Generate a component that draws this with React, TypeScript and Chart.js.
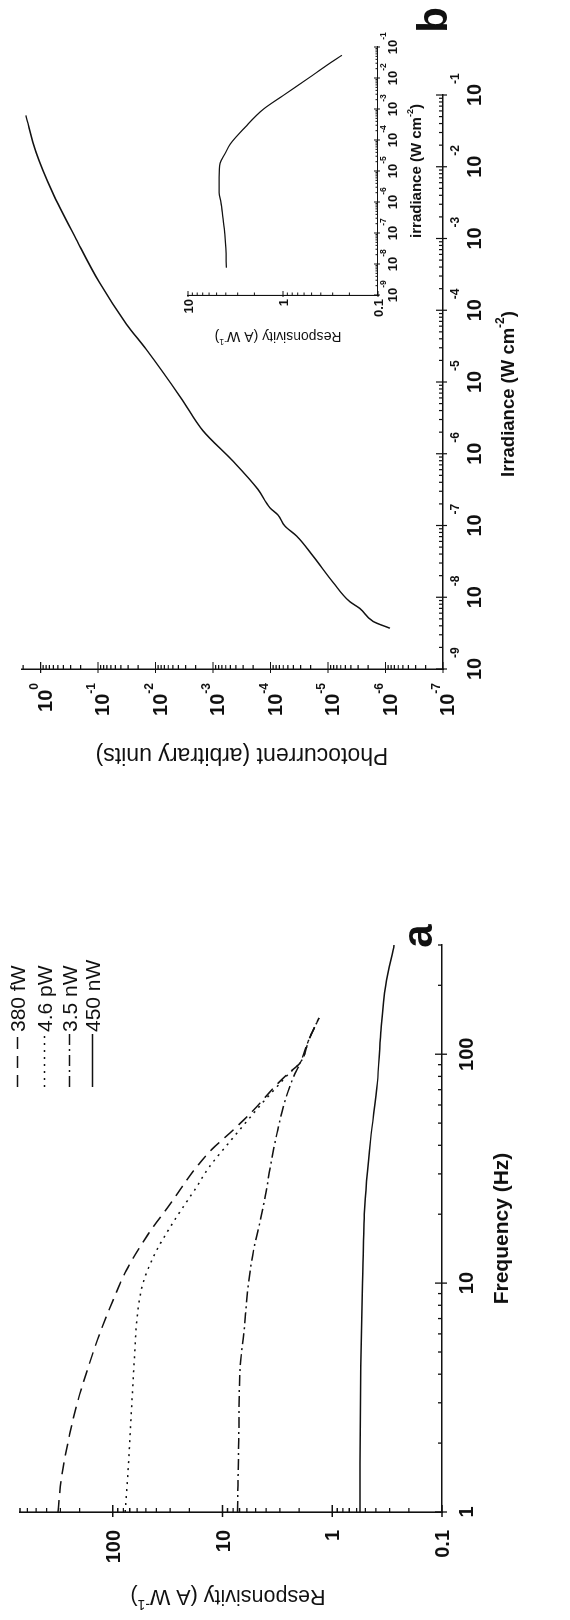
import React, { useEffect, useRef } from 'react';
import { Chart, registerables } from 'chart.js';
Chart.register(...registerables);

const FONT = '"Liberation Sans", Arial, Helvetica, sans-serif';
const INK = '#111111';

// ---------- Panel a : responsivity vs frequency ----------
const seriesLabelsA = ['380 fW', '4.6 pW', '3.5 nW', '450 nW'];
const freq380fW = [1, 1.42, 2.2, 3.08, 4.3, 6.04, 8.45, 11.4, 16, 23.2, 30.8, 38.4, 45.4, 56.5, 72.6, 82, 92, 116, 144];
const resp380fW = [315, 293, 246, 207, 167, 131, 99, 75, 49, 28, 18.5, 12.5, 8.5, 5.3, 3.3, 2.55, 1.95, 1.63, 1.32];
const freq46pW = [1, 1.6, 3, 5, 6.5, 8.5, 10, 12, 14.5, 18, 21.4, 26, 32, 41.7, 50, 60, 72, 82, 92, 116, 144];
const resp46pW = [77, 72, 67, 63, 61, 57, 53, 46, 38, 29, 23, 17.5, 13.3, 8.5, 6.2, 4.5, 3.2, 2.5, 1.95, 1.63, 1.32];
const freq35nW = [1, 2.2, 4.3, 6, 10, 14, 19, 24, 32.4, 45.4, 63.5, 80, 92, 116, 144];
const resp35nW = [7.3, 7.1, 6.9, 6.4, 5.8, 5.2, 4.5, 4.07, 3.66, 3.18, 2.67, 2.24, 1.95, 1.63, 1.32];
const freq450nW = [1, 4.3, 10, 20, 42.5, 75, 124, 200, 300];
const resp450nW = [0.56, 0.55, 0.53, 0.51, 0.447, 0.388, 0.362, 0.326, 0.273];
const dashesA = [[12, 7], [2, 5], [11, 4, 2, 4], []];

const freqTickValues = [1, 10, 100];
const freqTickLabels = ['1', '10', '100'];
const respTickValues = [0.1, 1, 10, 100];
const respTickLabels = ['0.1', '1', '10', '100'];

// ---------- Panel b : photocurrent vs irradiance ----------
const irradiance = [3.7e-9, 4.6e-9, 7.0e-9, 8.7e-9, 1.6e-8, 3.7e-8, 7.1e-8, 9.8e-8, 1.4e-7, 1.76e-7, 3.2e-7, 7.9e-7, 2.1e-6, 5.8e-6, 2.85e-5, 6.4e-5, 2.45e-4, 9.8e-4, 4.4e-3, 1.6e-2, 5.2e-2];
const photocurrent = [8.4e-7, 1.64e-6, 2.8e-6, 4.2e-6, 8.1e-6, 1.8e-5, 3.5e-5, 5.6e-5, 7.4e-5, 1.02e-4, 1.66e-4, 4.5e-4, 1.5e-3, 3.5e-3, 1.45e-2, 3.2e-2, 9.5e-2, 0.24, 0.62, 1.2, 1.8];
const photoTickExps = ['0', '-1', '-2', '-3', '-4', '-5', '-6', '-7'];
const irrTickExps = ['-9', '-8', '-7', '-6', '-5', '-4', '-3', '-2', '-1'];

// ---------- Inset : responsivity vs irradiance ----------
const insetIrradiance = [7.6e-9, 3.2e-8, 8.9e-8, 3.2e-7, 1.0e-6, 2.0e-6, 6.3e-6, 1.8e-5, 3.5e-5, 7.4e-5, 2.6e-4, 1.0e-3, 2.7e-3, 1.07e-2, 3.7e-2, 5.4e-2];
const insetResponsivity = [3.95, 4.0, 4.1, 4.3, 4.5, 4.7, 4.7, 4.6, 4.1, 3.6, 2.5, 1.6, 1.0, 0.52, 0.29, 0.24];
const insetRespTickValues = [0.1, 1, 10];
const insetRespTickLabels = ['0.1', '1', '10'];

type Part = { t: string; sup?: boolean };

function setFont(ctx: CanvasRenderingContext2D, size: number, weight: string) {
  ctx.font = `${weight} ${size}px ${FONT}`;
}

function drawParts(
  ctx: CanvasRenderingContext2D, parts: Part[], x: number, y: number,
  o: { size: number; weight: string; align: 'left' | 'center' | 'right'; rot?: number; supSize?: number; raise?: number }
) {
  ctx.save();
  ctx.translate(x, y);
  if (o.rot) ctx.rotate(o.rot);
  const supSize = o.supSize ?? Math.round(o.size * 0.62);
  const widths = parts.map((p) => { setFont(ctx, p.sup ? supSize : o.size, o.weight); return ctx.measureText(p.t).width; });
  const total = widths.reduce((a, b) => a + b, 0);
  let cx = o.align === 'left' ? 0 : o.align === 'right' ? -total : -total / 2;
  ctx.textAlign = 'left';
  ctx.textBaseline = 'alphabetic';
  ctx.fillStyle = INK;
  const base = o.size * 0.36;
  const raise = o.raise ?? o.size * 0.45;
  parts.forEach((p, i) => {
    setFont(ctx, p.sup ? supSize : o.size, o.weight);
    ctx.fillText(p.t, cx, p.sup ? base - raise : base);
    cx += widths[i];
  });
  ctx.restore();
}

function minorTicks(min: number, max: number) {
  const out: number[] = [];
  for (let e = Math.floor(Math.log10(min)); e <= Math.ceil(Math.log10(max)); e++) {
    for (let m = 2; m <= 9; m++) {
      const v = m * Math.pow(10, e);
      if (v > min * 1.0001 && v <= max * 1.0001) out.push(v);
    }
  }
  return out;
}

function drawTicks(chart: any, xMaj: number[], yMaj: number[], t: { majIn: number; majOut: number; minIn: number; w: number }) {
  const ctx: CanvasRenderingContext2D = chart.ctx;
  const { left, bottom } = chart.chartArea;
  const xs = chart.scales.x, ys = chart.scales.y;
  ctx.save();
  ctx.strokeStyle = INK;
  ctx.lineWidth = t.w;
  ctx.beginPath();
  xMaj.forEach((v) => { const p = xs.getPixelForValue(v); ctx.moveTo(p, bottom - t.majIn); ctx.lineTo(p, bottom + t.majOut); });
  minorTicks(xs.min, xs.max).forEach((v) => { const p = xs.getPixelForValue(v); ctx.moveTo(p, bottom - t.minIn); ctx.lineTo(p, bottom); });
  yMaj.forEach((v) => { const p = ys.getPixelForValue(v); ctx.moveTo(left - t.majOut, p); ctx.lineTo(left + t.majIn, p); });
  minorTicks(ys.min, ys.max).forEach((v) => { const p = ys.getPixelForValue(v); ctx.moveTo(left, p); ctx.lineTo(left + t.minIn, p); });
  ctx.stroke();
  ctx.restore();
}

function logAxis(min: number, max: number, size: number, axis: 'x' | 'y', bw: number) {
  return {
    type: 'logarithmic' as const,
    min, max,
    ticks: { display: false },
    grid: { display: false },
    border: { display: true, color: INK, width: bw },
    afterFit: (s: any) => { if (axis === 'x') s.height = size; else s.width = size; },
  };
}

function pts(xs: number[], ys: number[]) { return xs.map((x, i) => ({ x, y: ys[i] })); }

const decorA = {
  id: 'decorA',
  afterDraw(chart: any) {
    const ctx: CanvasRenderingContext2D = chart.ctx;
    const ca = chart.chartArea;
    const xs = chart.scales.x, ys = chart.scales.y;
    drawTicks(chart, freqTickValues, respTickValues, { majIn: 7, majOut: 5, minIn: 4, w: 1.3 });
    freqTickValues.forEach((v, i) => {
      drawParts(ctx, [{ t: freqTickLabels[i] }], xs.getPixelForValue(v), 466, { size: 20, weight: 'bold', align: 'center' });
    });
    respTickValues.forEach((v, i) => {
      drawParts(ctx, [{ t: respTickLabels[i] }], 90, ys.getPixelForValue(v), { size: 20, weight: 'bold', align: 'right' });
    });
    drawParts(ctx, [{ t: 'Frequency (Hz)' }], (ca.left + ca.right) / 2, 500, { size: 21, weight: 'bold', align: 'center' });
    drawParts(ctx, [{ t: 'Responsivity (A W' }, { t: '-1', sup: true }, { t: ')' }], 22, 228,
      { size: 21.5, weight: 'normal', align: 'center', rot: -Math.PI / 2, supSize: 14, raise: 10 });
    setFont(ctx, 42, 'bold');
    ctx.fillStyle = INK; ctx.textAlign = 'center'; ctx.textBaseline = 'alphabetic';
    ctx.fillText('a', 684, 432);
    // legend
    const rows = [17.5, 44.5, 69.5, 92.5];
    chart.data.datasets.forEach((ds: any, i: number) => {
      ctx.save();
      ctx.strokeStyle = INK; ctx.lineWidth = 1.5; ctx.setLineDash(ds.borderDash || []);
      ctx.beginPath(); ctx.moveTo(533, rows[i]); ctx.lineTo(586, rows[i]); ctx.stroke();
      ctx.restore();
      drawParts(ctx, [{ t: ds.label }], 588, rows[i], { size: 21, weight: 'normal', align: 'left' });
    });
  },
};

const decorB = {
  id: 'decorB',
  afterDraw(chart: any) {
    const ctx: CanvasRenderingContext2D = chart.ctx;
    const ca = chart.chartArea;
    const xs = chart.scales.x, ys = chart.scales.y;
    const yMaj = photoTickExps.map((e) => Math.pow(10, Number(e)));
    const xMaj = irrTickExps.map((e) => Math.pow(10, Number(e)));
    drawTicks(chart, xMaj, yMaj, { majIn: 7, majOut: 4, minIn: 4, w: 1.2 });
    irrTickExps.forEach((e, i) => {
      const p = xs.getPixelForValue(xMaj[i]);
      setFont(ctx, 20, 'bold');
      const w = ctx.measureText('10').width;
      drawParts(ctx, [{ t: '10' }], p, 474, { size: 20, weight: 'bold', align: 'center' });
      drawParts(ctx, [{ t: e }], p + w / 2, 455, { size: 12, weight: 'bold', align: 'left' });
    });
    photoTickExps.forEach((e, i) => {
      const p = ys.getPixelForValue(yMaj[i]);
      drawParts(ctx, [{ t: '10' }, { t: e, sup: true }], 177, p + 4, { size: 20, weight: 'bold', align: 'right', supSize: 12, raise: 14 });
    });
    drawParts(ctx, [{ t: 'Irradiance (W cm' }, { t: '-2', sup: true }, { t: ')' }], 466, 507,
      { size: 18.5, weight: 'bold', align: 'center', supSize: 12, raise: 10 });
    drawParts(ctx, [{ t: 'Photocurrent (arbitrary units)' }], 104, 242,
      { size: 23, weight: 'normal', align: 'center', rot: -Math.PI / 2 });
    setFont(ctx, 42, 'bold');
    ctx.fillStyle = INK; ctx.textAlign = 'center'; ctx.textBaseline = 'alphabetic';
    ctx.fillText('b', 840, 447);
  },
};

const decorC = {
  id: 'decorC',
  afterDraw(chart: any) {
    const ctx: CanvasRenderingContext2D = chart.ctx;
    const ca = chart.chartArea;
    const xs = chart.scales.x, ys = chart.scales.y;
    const xMaj = irrTickExps.map((e) => Math.pow(10, Number(e)));
    drawTicks(chart, xMaj, insetRespTickValues, { majIn: 4, majOut: 2, minIn: 2.5, w: 1 });
    irrTickExps.forEach((e, i) => {
      const p = xs.getPixelForValue(xMaj[i]);
      setFont(ctx, 13, 'bold');
      const w = ctx.measureText('10').width;
      drawParts(ctx, [{ t: '10' }], p, 242, { size: 13, weight: 'bold', align: 'center' });
      drawParts(ctx, [{ t: e }], p + w / 2, 233, { size: 8.5, weight: 'bold', align: 'left' });
    });
    insetRespTickValues.forEach((v, i) => {
      drawParts(ctx, [{ t: insetRespTickLabels[i] }], 66, ys.getPixelForValue(v), { size: 13, weight: 'bold', align: 'right' });
    });
    drawParts(ctx, [{ t: 'irradiance (W cm' }, { t: '-2', sup: true }, { t: ')' }], (ca.left + ca.right) / 2, 266,
      { size: 15, weight: 'bold', align: 'center', supSize: 9, raise: 8 });
    drawParts(ctx, [{ t: 'Responsivity (A W' }, { t: '-1', sup: true }, { t: ')' }], 28, (ca.top + ca.bottom) / 2 - 5,
      { size: 14, weight: 'normal', align: 'center', rot: -Math.PI / 2, supSize: 9, raise: 7 });
  },
};

function lineDs(label: string, data: any[], dash: number[], width: number) {
  return {
    label, data,
    borderColor: INK, borderWidth: width, borderDash: dash,
    pointRadius: 0, fill: false, cubicInterpolationMode: 'monotone' as const,
  };
}

const baseOpts = {
  responsive: false,
  animation: false as const,
  events: [] as any[],
  plugins: { legend: { display: false }, tooltip: { enabled: false } },
};

export default function App() {
  const refA = useRef<HTMLCanvasElement>(null);
  const refB = useRef<HTMLCanvasElement>(null);
  const refC = useRef<HTMLCanvasElement>(null);

  useEffect(() => {
    document.documentElement.style.overflow = 'hidden';
    const charts: Chart[] = [];
    const seriesA = [
      pts(freq380fW, resp380fW), pts(freq46pW, resp46pW), pts(freq35nW, resp35nW), pts(freq450nW, resp450nW),
    ];
    charts.push(new Chart(refA.current!, {
      type: 'line',
      data: { datasets: seriesA.map((d, i) => lineDs(seriesLabelsA[i], d, dashesA[i], 1.5)) },
      options: {
        ...baseOpts,
        layout: { padding: { left: 0, top: 20, right: 85, bottom: 0 } },
        scales: { x: logAxis(1, 300, 128, 'x', 1.6), y: logAxis(0.1, 700, 108, 'y', 1.6) },
      } as any,
      plugins: [decorA],
    }));
    charts.push(new Chart(refB.current!, {
      type: 'line',
      data: { datasets: [lineDs('Photocurrent', pts(irradiance, photocurrent), [], 1.5)] },
      options: {
        ...baseOpts,
        layout: { padding: { left: 0, top: 22, right: 95, bottom: 0 } },
        scales: { x: logAxis(1e-9, 1e-1, 127, 'x', 1.5), y: logAxis(1e-7, 2.1, 191, 'y', 1.5) },
      } as any,
      plugins: [decorB],
    }));
    charts.push(new Chart(refC.current!, {
      type: 'line',
      data: { datasets: [lineDs('Responsivity', pts(insetIrradiance, insetResponsivity), [], 1.2)] },
      options: {
        ...baseOpts,
        layout: { padding: { left: 0, top: 38, right: 47, bottom: 0 } },
        scales: { x: logAxis(1e-9, 1e-1, 52, 'x', 1.1), y: logAxis(0.1, 10, 70, 'y', 1.1) },
      } as any,
      plugins: [decorC],
    }));
    return () => charts.forEach((c) => c.destroy());
  }, []);

  return (
    <div
      style={{
        position: 'absolute', left: 0, top: 0, width: 1620, height: 570,
        transformOrigin: '0 0', transform: 'translateY(1620px) rotate(-90deg)',
        background: '#ffffff', overflow: 'hidden',
      }}
    >
      <canvas ref={refA} width={760} height={570} style={{ position: 'absolute', left: 0, top: 0 }} />
      <canvas ref={refB} width={860} height={570} style={{ position: 'absolute', left: 760, top: 0 }} />
      <canvas ref={refC} width={365} height={280} style={{ position: 'absolute', left: 1255, top: 150 }} />
    </div>
  );
}
